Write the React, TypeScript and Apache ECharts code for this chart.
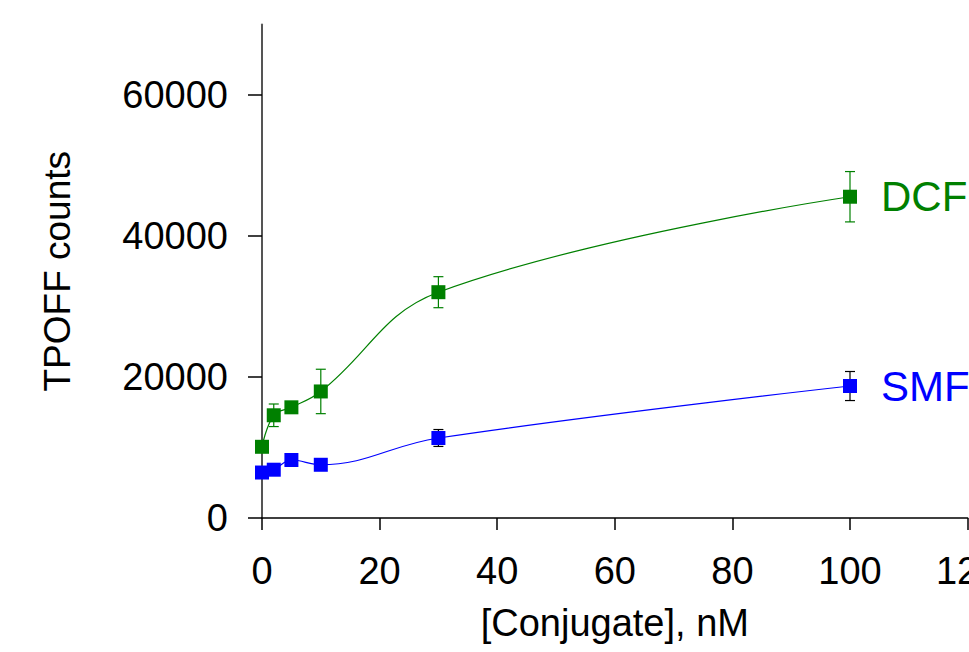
import React, { useEffect, useRef } from "react";
import * as echarts from "echarts";

const xValues = [0, 2, 5, 10, 30, 100];
const dcfValues = [10100, 14570, 15700, 17950, 32030, 45570];
const dcfErrors = [0, 1600, 0, 3150, 2200, 3570];
const smfValues = [6450, 6850, 8230, 7550, 11350, 18720];
const smfErrors = [0, 0, 0, 0, 1200, 2060];
const yTicks = [0, 20000, 40000, 60000];
const seriesNames = ["DCF", "SMF"];

const FONT = "'Liberation Sans', Arial, sans-serif";
const GREEN = "#008000";
const BLUE = "#0000ff";

function errData(vals: number[], errs: number[]) {
  return xValues
    .map((x, i) => [x, vals[i], errs[i]])
    .filter((d) => d[2] > 0);
}

function errSeries(vals: number[], errs: number[], color: string) {
  return {
    type: "custom",
    z: 1,
    silent: true,
    data: errData(vals, errs),
    renderItem: (params: any, api: any) => {
      const x = api.value(0);
      const y = api.value(1);
      const e = api.value(2);
      const top = api.coord([x, y + e]);
      const bot = api.coord([x, y - e]);
      const hw = 5;
      const style = { stroke: color, lineWidth: 1.2 };
      return {
        type: "group",
        children: [
          { type: "line", shape: { x1: top[0], y1: top[1], x2: bot[0], y2: bot[1] }, style },
          { type: "line", shape: { x1: top[0] - hw, y1: top[1], x2: top[0] + hw, y2: top[1] }, style },
          { type: "line", shape: { x1: bot[0] - hw, y1: bot[1], x2: bot[0] + hw, y2: bot[1] }, style },
        ],
      };
    },
  };
}

function lineSeries(name: string, vals: number[], color: string) {
  return {
    name,
    type: "line",
    z: 3,
    smooth: 0.4,
    symbol: "rect",
    symbolSize: 14,
    itemStyle: { color },
    lineStyle: { color, width: 1.2 },
    data: xValues.map((x, i) =>
      i === xValues.length - 1
        ? {
            value: [x, vals[i]],
            label: {
              show: true,
              position: "right",
              distance: 24,
              formatter: name,
              color,
              fontSize: 42,
              fontFamily: FONT,
            },
          }
        : [x, vals[i]]
    ),
  };
}

export default function App() {
  const ref = useRef<HTMLDivElement>(null);
  useEffect(() => {
    const chart = echarts.init(ref.current!, null, { renderer: "svg" });
    chart.setOption({
      animation: false,
      backgroundColor: "#ffffff",
      grid: { left: 262, right: 1.4, top: 24.5, bottom: 134, containLabel: false, outerBoundsMode: "none" },
      xAxis: {
        type: "value",
        min: 0,
        max: 120,
        interval: 20,
        name: "[Conjugate], nM",
        nameLocation: "middle",
        nameGap: 86,
        nameTextStyle: { color: "#000", fontSize: 38, fontFamily: FONT },
        axisLine: { show: true, lineStyle: { color: "#000", width: 1.5 } },
        axisTick: { show: true, length: 12, lineStyle: { color: "#000", width: 1.5 } },
        axisLabel: { color: "#000", fontSize: 38, fontFamily: FONT, margin: 34, showMaxLabel: true, hideOverlap: false },
        splitLine: { show: false },
      },
      yAxis: {
        type: "value",
        min: 0,
        max: 70000,
        name: "TPOFF counts",
        nameLocation: "middle",
        nameGap: 186,
        nameTextStyle: { color: "#000", fontSize: 37, fontFamily: FONT },
        axisLine: { show: true, lineStyle: { color: "#555", width: 2 } },
        axisTick: { show: true, length: 14, customValues: yTicks, lineStyle: { color: "#000", width: 1.5 } },
        axisLabel: {
          color: "#000",
          fontSize: 38,
          fontFamily: FONT,
          margin: 34,
          customValues: yTicks,
          formatter: (v: number) => String(v),
        },
        splitLine: { show: false },
      },
      series: [
        errSeries(dcfValues, dcfErrors, GREEN),
        errSeries(smfValues, smfErrors, "#000"),
        lineSeries(seriesNames[0], dcfValues, GREEN),
        lineSeries(seriesNames[1], smfValues, BLUE),
      ],
    });
    return () => chart.dispose();
  }, []);
  return (
    <div
      ref={ref}
      style={{ position: "fixed", left: 0, top: 0, width: 969, height: 652, overflow: "hidden" }}
    />
  );
}
